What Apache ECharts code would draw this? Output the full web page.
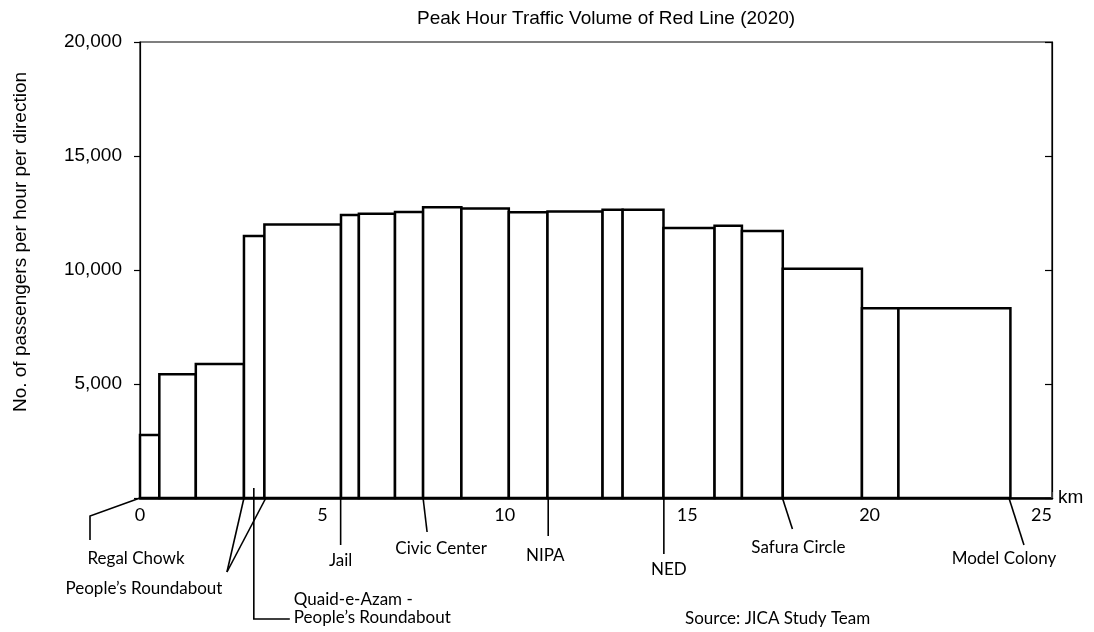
<!DOCTYPE html>
<html>
<head>
<meta charset="utf-8">
<script src="https://cdn.jsdelivr.net/npm/echarts@6/dist/echarts.min.js"></script>
<style>
  html, body { margin: 0; padding: 0; background: #fff; }
  #chart { width: 1094px; height: 632px; }
</style>
</head>
<body>
<div id="chart"></div>
<script>
// segments of the line: start km, end km, passengers per hour per direction
const segStart = [0, 0.53, 1.53, 2.85, 3.41, 5.51, 6.0, 6.99, 7.76, 8.81, 10.11, 11.17, 12.68, 13.23, 14.35, 15.75, 16.5, 17.62, 19.79, 20.79];
const segEnd   = [0.53, 1.53, 2.85, 3.41, 5.51, 6.0, 6.99, 7.76, 8.81, 10.11, 11.17, 12.68, 13.23, 14.35, 15.75, 16.5, 17.62, 19.79, 20.79, 23.86];
const segValue = [2760, 5430, 5880, 11490, 12000, 12410, 12470, 12540, 12750, 12700, 12530, 12570, 12640, 12640, 11840, 11940, 11710, 10060, 8320, 8320];

const yTicks = [5000, 10000, 15000, 20000];

// stations and where they sit on the line (km)
const stationNames = ['Regal Chowk', 'People’s Roundabout', 'Quaid-e-Azam -\nPeople’s Roundabout', 'Jail', 'Civic Center', 'NIPA', 'NED', 'Safura Circle', 'Model Colony'];
const stationKm = [[0], [2.85, 3.45], [3.12], [5.5], [7.76], [11.19], [14.36], [17.61], [23.82]];

// leader lines and label offsets, in px relative to the first anchor
const leaderPath = [
  [[0, 0], [-50, 18], [-50, 42]],
  [[0, 0], [-17, 74]],
  [[0, -10], [0, 121], [36, 121]],
  [[0, 0], [0, 47]],
  [[0, 0], [4, 34]],
  [[0, 0], [0, 38]],
  [[0, 0], [0, 56]],
  [[0, 0], [10, 31]],
  [[0, 0], [15, 47]]
];
const labelPos = [[-4, 61], [-100, 91], [40, 111], [0, 63], [18, 51], [-3, 58], [5, 72], [16, 50], [-5, 61]];

const labelFont = '17px Lato';

var chartDom = document.getElementById('chart');
var myChart = echarts.init(chartDom);

var segData = segStart.map(function (s, i) { return [s, segEnd[i], segValue[i]]; });
var stationData = stationNames.map(function (n, i) { return [stationKm[i][0], 0, i]; });

var option = {
  animation: false,
  title: {
    text: 'Peak Hour Traffic Volume of Red Line (2020)',
    left: 412,
    top: 4,
    textStyle: { fontFamily: 'Liberation Sans', fontSize: 19, fontWeight: 'normal', color: '#000' }
  },
  grid: { left: 140, right: 42, top: 42, bottom: 134, show: true, borderColor: '#000', borderWidth: 1.2 },
  xAxis: {
    type: 'value',
    min: 0,
    max: 25,
    interval: 5,
    name: 'km',
    nameGap: 6,
    nameTextStyle: { fontFamily: 'Liberation Sans', fontSize: 19, color: '#000', verticalAlign: 'middle' },
    axisLine: { lineStyle: { color: '#000', width: 2.5 } },
    axisTick: { inside: true, length: 6, lineStyle: { color: '#555', width: 1.5 } },
    axisLabel: { fontFamily: 'Lato', fontSize: 18, color: '#000', margin: 8, alignMaxLabel: 'right' },
    splitLine: { show: false }
  },
  yAxis: [{
    type: 'value',
    min: 0,
    max: 20000,
    interval: 5000,
    name: 'No. of passengers per hour per direction',
    nameLocation: 'middle',
    nameGap: 110,
    nameTextStyle: { fontFamily: 'Liberation Sans', fontSize: 19, color: '#000', padding: [0, 0, 0, 56] },
    axisLine: { show: true, lineStyle: { color: '#000', width: 1.2 } },
    axisTick: { show: true, length: 6, lineStyle: { color: '#000', width: 1.2 } },
    axisLabel: {
      fontFamily: 'Liberation Sans', fontSize: 19, color: '#000', margin: 18,
      formatter: function (v) { return yTicks.indexOf(v) >= 0 ? v.toLocaleString('en-US') : ''; }
    },
    splitLine: { show: false }
  }, {
    type: 'value',
    position: 'right',
    min: 0,
    max: 20000,
    interval: 5000,
    axisLine: { show: true, lineStyle: { color: '#000', width: 1.2 } },
    axisTick: { show: true, inside: true, length: 7, lineStyle: { color: '#000', width: 1.2 } },
    axisLabel: { show: false },
    splitLine: { show: false }
  }],
  graphic: [{
    type: 'text',
    left: 685,
    top: 610,
    style: { text: 'Source: JICA Study Team', font: labelFont, fill: '#000' }
  }],
  series: [{
    type: 'custom',
    name: 'Traffic volume',
    data: segData,
    renderItem: function (params, api) {
      var p0 = api.coord([api.value(0), api.value(2)]);
      var p1 = api.coord([api.value(1), 0]);
      return {
        type: 'rect',
        shape: { x: p0[0], y: p0[1], width: p1[0] - p0[0], height: p1[1] - p0[1] },
        style: { fill: '#fff', stroke: '#000', lineWidth: 2.5 }
      };
    },
    z: 2
  }, {
    type: 'custom',
    name: 'Stations',
    yAxisIndex: 1,
    data: stationData,
    clip: false,
    silent: true,
    renderItem: function (params, api) {
      var i = api.value(2);
      var kms = stationKm[i];
      var base = api.coord([kms[0], 0]);
      var path = leaderPath[i];
      var children = kms.map(function (k) {
        var a = api.coord([k, 0]);
        var pts = path.map(function (p, j) {
          if (j === 0) return [a[0] + p[0], base[1] + p[1]];
          return [base[0] + p[0], base[1] + p[1]];
        });
        return { type: 'polyline', shape: { points: pts }, style: { stroke: '#000', lineWidth: 1.6, fill: null } };
      });
      var lp = labelPos[i];
      var multi = stationNames[i].indexOf('\n') >= 0;
      children.push({
        type: 'text',
        style: {
          text: stationNames[i],
          x: base[0] + lp[0],
          y: base[1] + lp[1],
          align: multi ? 'left' : 'center',
          verticalAlign: 'middle',
          font: labelFont,
          lineHeight: 18,
          fill: '#000'
        }
      });
      return { type: 'group', children: children };
    },
    z: 3
  }]
};

option && myChart.setOption(option);
</script>
</body>
</html>
